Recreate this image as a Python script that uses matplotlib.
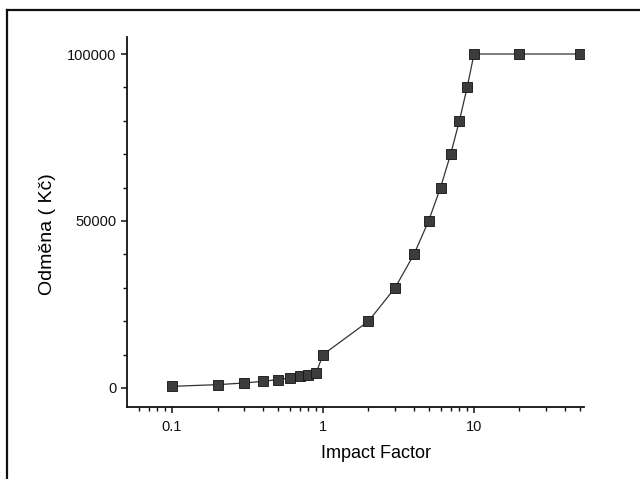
import matplotlib
matplotlib.use("Agg")
import matplotlib.pyplot as plt
from matplotlib.lines import Line2D
from matplotlib.ticker import LogLocator, FixedLocator, MultipleLocator, NullFormatter

impact_factor = [0.1, 0.2, 0.3, 0.4, 0.5, 0.6, 0.7, 0.8, 0.9,
                 1, 2, 3, 4, 5, 6, 7, 8, 9, 10, 20, 50]
odmena = [500, 1000, 1500, 2000, 2500, 3000, 3500, 4000, 4500,
          10000, 20000, 30000, 40000, 50000, 60000, 70000, 80000, 90000, 100000,
          100000, 100000]
x_tick_values = [0.1, 1, 10]
x_tick_labels = ["0.1", "1", "10"]
y_tick_values = [0, 50000, 100000]
y_tick_labels = ["0", "50000", "100000"]

plt.rcParams['font.family'] = ['Liberation Sans', 'DejaVu Sans']

fig = plt.figure(figsize=(6.4, 4.79), dpi=100)
W, H = 640, 479
ax = fig.add_axes([127 / W, 1 - 407 / H, (584 - 127) / W, (407 - 37) / H])

ax.plot(impact_factor, odmena, color='#333333', lw=0.9,
        marker='s', markersize=6.8, markerfacecolor='#3c3c3c',
        markeredgecolor='#111111', markeredgewidth=0.6)

ax.set_xscale('log')
ax.set_xlim(0.0503, 53.5)
ax.set_ylim(-5690, 105090)

ax.xaxis.set_major_locator(FixedLocator(x_tick_values))
ax.set_xticklabels(x_tick_labels)
ax.xaxis.set_minor_locator(LogLocator(base=10, subs=range(2, 10), numticks=20))
ax.xaxis.set_minor_formatter(NullFormatter())

ax.set_yticks(y_tick_values)
ax.set_yticklabels(y_tick_labels)
ax.yaxis.set_minor_locator(MultipleLocator(10000))

for s in ['top', 'right']:
    ax.spines[s].set_visible(False)
for s in ['left', 'bottom']:
    ax.spines[s].set_linewidth(1.3)
    ax.spines[s].set_color('#111111')

ax.tick_params(axis='both', which='major', direction='out', length=4.5, width=1.1,
               labelsize=10.5, pad=3, colors='#111111')
ax.tick_params(axis='both', which='minor', direction='out', length=3, width=1.0,
               colors='#111111')
ax.tick_params(axis='x', which='major', pad=5)

ax.set_xlabel("Impact Factor", fontsize=13)
ax.set_ylabel("Odměna ( Kč)", fontsize=14)
ax.xaxis.set_label_coords((376 - 127) / (584 - 127), (407 - 445) / (407 - 37))
ax.yaxis.set_label_coords((56 - 127) / (584 - 127), (407 - 234) / (407 - 37))

# scanned page border (top and left)
fig.add_artist(Line2D([7 / W, 1.0], [1 - 10 / H, 1 - 10 / H], transform=fig.transFigure,
                      color='#111111', lw=1.6))
fig.add_artist(Line2D([7 / W, 7 / W], [0.0, 1 - 10 / H], transform=fig.transFigure,
                      color='#111111', lw=1.6))

fig.savefig("out.png", dpi=100)
